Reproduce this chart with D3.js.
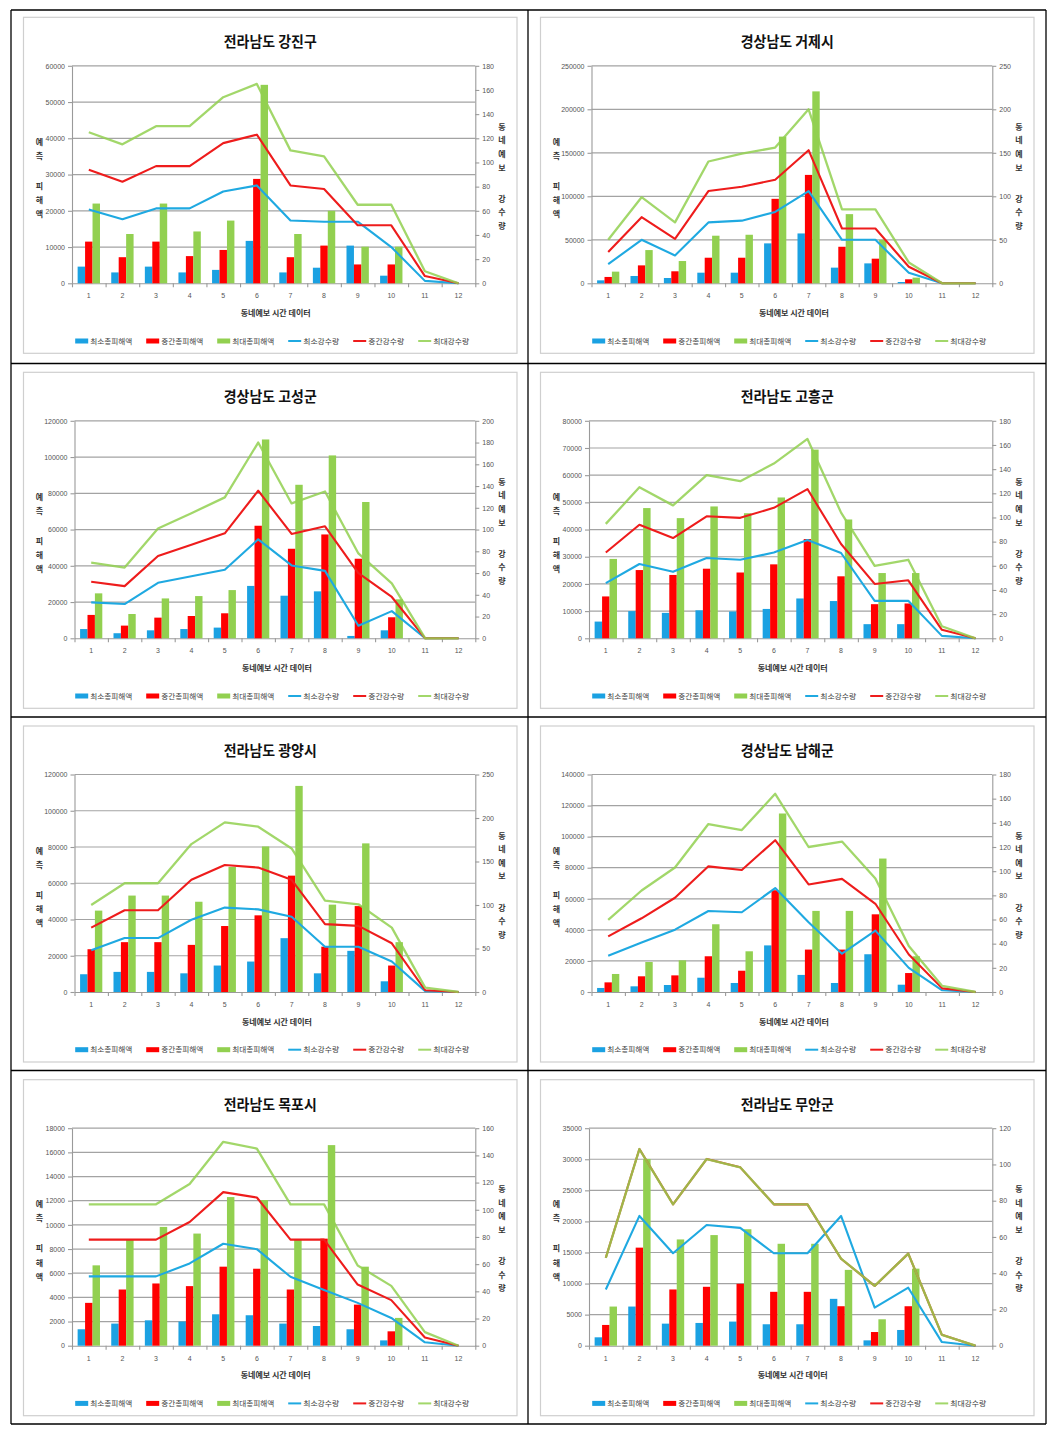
<!DOCTYPE html>
<html><head><meta charset="utf-8">
<script src="https://cdn.jsdelivr.net/npm/d3@7"></script>
<style>body{margin:0;background:#fff;} svg{display:block;}</style>
</head><body>
<svg id="c" width="1056" height="1436"></svg>
<script>
const categories = [1,2,3,4,5,6,7,8,9,10,11,12];
const titles = ["전라남도 강진구","경상남도 거제시","경상남도 고성군","전라남도 고흥군","전라남도 광양시","경상남도 남해군","전라남도 목포시","전라남도 무안군"];
const seriesNames = ["최소총피해액","중간총피해액","최대총피해액","최소강수량","중간강수량","최대강수량"];
const xTitle = "동네예보 시간 데이터";
const leftTitle = ["예","측","","피","해","액"];
const rightTitle = ["동","네","예","보","","강","수","량"];
const leftMax = [60000, 250000, 120000, 80000, 120000, 140000, 18000, 35000];
const leftStep = [10000, 50000, 20000, 10000, 20000, 20000, 2000, 5000];
const rightMax = [180, 250, 200, 180, 250, 180, 160, 120];
const rightStep = [20, 50, 20, 20, 50, 20, 20, 20];

const minDamage = [
  [4600,3000,4600,3000,3700,11700,3000,4300,10400,2100,0,0],
  [3400,8400,6100,12200,12200,45900,57300,18000,22900,1500,0,0],
  [5100,2800,4400,5100,5900,28900,23500,25900,1300,4400,0,0],
  [6150,10000,9350,10300,9850,10800,14650,13700,5200,5200,0,0],
  [9800,11100,11100,10300,14600,16800,29700,10300,22700,5900,0,0],
  [2600,3650,4500,9200,5800,30000,11000,5800,24300,4700,0,0],
  [1360,1830,2100,2000,2600,2520,1830,1630,1360,440,0,0],
  [1350,6300,3550,3660,3880,3450,3450,7540,860,2530,0,0]
];
const midDamage = [
  [11500,7200,11500,7500,9200,28800,7200,10400,5200,5200,0,0],
  [7300,20600,13800,29400,29400,97100,124600,42000,28300,4600,0,0],
  [12900,7000,11400,12300,13800,62100,49400,57300,43900,11600,0,0],
  [15400,25100,23300,25600,24200,27200,36500,22800,12550,12800,0,0],
  [23600,27500,27500,26000,36400,42300,64200,25000,47400,14600,0,0],
  [6200,10100,10700,23000,13700,65500,27300,27300,50000,12200,0,0],
  [3545,4650,5150,4930,6540,6370,4650,8860,3400,1190,0,0],
  [3340,15780,9050,9480,9960,8670,8670,6350,2200,6350,0,0]
];
const maxDamage = [
  [22000,13600,22000,14300,17300,54750,13600,20000,10100,10100,0,0],
  [13400,38200,25600,54700,55800,168600,220600,79500,50000,6500,0,0],
  [24800,13400,22000,23300,26600,109700,84700,100900,75200,21500,0,0],
  [29200,47900,44200,48500,46000,51800,69400,43700,24000,24000,0,0],
  [44900,53200,53200,49800,69000,80300,113700,48200,82000,27500,0,0],
  [11600,19300,20400,43600,26200,114900,52200,52200,85900,23000,0,0],
  [6650,8800,9830,9280,12300,12050,8800,16600,6540,2300,0,0],
  [6300,30050,17100,17800,18740,16400,16400,12200,4250,12400,0,0]
];
const minRain = [
  [61,53,62,62,76,81,52,51,51,30,2,0],
  [22,50,32,70,72,82,106,50,50,12,0,0],
  [33,31.5,51,57,63,91,67,62,11.6,25,0,0],
  [45.7,61.5,55,66.5,65,71,81.4,70.6,31,31,2,0],
  [48,62,62,83,97,95,86.5,52,52,35,1,0],
  [30,41,51.6,67,66,86,57.7,31.7,50.8,20,1.4,0],
  [51,51,51,60.5,75,71,50.7,41,31.5,20.4,2.5,0],
  [31,71.6,51,66.6,65,51,51,71.6,21,32,2,0]
];
const midRain = [
  [94,84,97,97,116,123,81,78,48,48,6,0],
  [36,76,51,106,111,119,153,63,63,19,0,0],
  [52,48,75.6,86,96.5,135.7,96,103,60,38,0,0],
  [71,94,83,101,99.7,108,123.5,78,45,48,7,0],
  [74,94,94,129,146,143,129,78,76,56,2,0],
  [46,61,78,104,101,125.6,89,93.6,73,31,3,0],
  [78,78,78,91,113,109,78,78,45,33.5,6,0],
  [48.5,108.5,78,103,98.4,78,78,48,33,50.8,6,0]
];
const maxRain = [
  [125,115,130,130,154,165,110,105,65,65,10,0],
  [50,99,70,140,149,156,200,85,85,24,0,0],
  [69.5,65,101,115,129.6,180,124,135,78,50.5,0,0],
  [94.7,125,110,135,130,144.6,165,104,60,65,10,0],
  [100,125,125,170,195,190,165,105,100.8,74,5,0],
  [59.6,84,103,139,134,164,120,124.5,94,38,5,0],
  [104,104,104,119,150,145,104,104,59,44,10,0],
  [48.5,108.5,78,103,98.4,78,78,48,33,50.8,6,0]
];

const barColors = ["#1ba1e2","#ff0000","#92d050"];
const lineColors = ["#1fa9e1","#ee1c1c","#92d050"];
const FONT = "'Noto Sans CJK KR','Noto Sans',sans-serif";
const NUMFONT = "'Liberation Sans','DejaVu Sans',sans-serif";

const svg = d3.select("#c");

// table grid
const colX = [11, 528, 1046];
const rowY = [10, 363.5, 717, 1070.5, 1424];
const grid = svg.append("g").attr("stroke","#000").attr("stroke-width",1.3);
colX.forEach(x => grid.append("line").attr("x1",x).attr("x2",x).attr("y1",rowY[0]).attr("y2",rowY[4]));
rowY.forEach(y => grid.append("line").attr("x1",colX[0]).attr("x2",colX[2]).attr("y1",y).attr("y2",y));

const frameXs = [23.5, 540.5];
const frameYs = [17.3, 372.3, 726, 1079.7];
const frameW = 493.5, frameH = 336;

titles.forEach((title, i) => {
  const col = i % 2, row = Math.floor(i / 2);
  const fx = frameXs[col], fy = frameYs[row];
  const g = svg.append("g");
  g.append("rect").attr("x",fx).attr("y",fy).attr("width",frameW).attr("height",frameH)
    .attr("fill","#fff").attr("stroke","#cfcfcf").attr("stroke-width",1.2);

  const pl = fx + (leftMax[i] >= 100000 ? 51 : 48.5);
  const pr = fx + frameW - 41.7;
  const pt = fy + 48.5;
  const pb = fy + 266;

  const x = d3.scaleBand().domain(categories).range([pl, pr]).paddingInner(0).paddingOuter(0);
  const xb = d3.scaleLinear().domain([0, categories.length]).range([pl, pr]);
  const yL = d3.scaleLinear().domain([0, leftMax[i]]).range([pb, pt]);
  const yR = d3.scaleLinear().domain([0, rightMax[i]]).range([pb, pt]);
  const lTicks = d3.range(0, leftMax[i] + 1, leftStep[i]);
  const rTicks = d3.range(0, rightMax[i] + 1, rightStep[i]);

  // gridlines
  g.append("g").selectAll("line").data(lTicks.filter(v => v > 0)).join("line")
    .attr("x1", pl).attr("x2", pr).attr("y1", d => yL(d)).attr("y2", d => yL(d))
    .attr("stroke", "#a3a3a3").attr("stroke-width", 1.2);

  // axes
  const ax = g.append("g").attr("transform", `translate(${pl},0)`)
    .call(d3.axisLeft(yL).tickValues(lTicks).tickSize(4).tickSizeOuter(0).tickPadding(3).tickFormat(d3.format("d")));
  const ar = g.append("g").attr("transform", `translate(${pr},0)`)
    .call(d3.axisRight(yR).tickValues(rTicks).tickSize(4).tickSizeOuter(0).tickPadding(3).tickFormat(d3.format("d")));
  const axb = g.append("g").attr("transform", `translate(0,${pb})`)
    .call(d3.axisBottom(xb).tickValues(d3.range(0, categories.length + 1)).tickSize(4).tickSizeOuter(0).tickFormat(""));
  const axl = g.append("g").attr("transform", `translate(0,${pb})`)
    .call(d3.axisBottom(x).tickSize(0).tickPadding(10));
  axl.select(".domain").remove();
  [ax, ar, axb, axl].forEach(a => {
    a.selectAll("path,line").attr("stroke", "#9a9a9a").attr("stroke-width", 1.1);
    a.selectAll("text").attr("font-family", NUMFONT).attr("font-size", 7).attr("fill", "#555");
  });

  // bars
  const bw = x.bandwidth();
  const groupW = bw * 0.665, barW = groupW / 3;
  [minDamage[i], midDamage[i], maxDamage[i]].forEach((vals, s) => {
    g.append("g").selectAll("rect").data(categories.map((c, k) => ({c, v: vals[k]}))).join("rect")
      .attr("x", d => x(d.c) + bw / 2 - groupW / 2 + s * barW)
      .attr("width", barW)
      .attr("y", d => yL(d.v))
      .attr("height", d => pb - yL(d.v))
      .attr("fill", barColors[s]);
  });

  // lines
  const line = d3.line().x(d => x(d.c) + bw / 2).y(d => yR(d.v));
  [minRain[i], midRain[i], maxRain[i]].forEach((vals, s) => {
    g.append("path").datum(categories.map((c, k) => ({c, v: vals[k]})))
      .attr("d", line).attr("fill", "none")
      .attr("stroke", lineColors[s])
      .attr("stroke-width", s === 2 ? 2.3 : 2.1)
      .attr("stroke-opacity", s === 2 ? 0.85 : 1)
      .attr("stroke-linejoin", "round");
  });

  // title
  g.append("text").attr("x", fx + frameW / 2).attr("y", fy + 30)
    .attr("text-anchor", "middle").attr("font-family", FONT).attr("font-weight", "bold")
    .attr("font-size", 15).attr("fill", "#111")
    .attr("textLength", 93).attr("lengthAdjust", "spacingAndGlyphs").text(title);

  // x title
  g.append("text").attr("x", (pl + pr) / 2 + 2).attr("y", fy + 298.5)
    .attr("text-anchor", "middle").attr("font-family", FONT).attr("font-weight", "bold")
    .attr("font-size", 8).attr("fill", "#333")
    .attr("textLength", 70).attr("lengthAdjust", "spacingAndGlyphs").text(xTitle);

  // vertical axis titles
  const lt = g.append("text").attr("font-family", FONT).attr("font-weight", "bold")
    .attr("font-size", 8).attr("fill", "#333").attr("text-anchor", "middle");
  leftTitle.forEach((ch, k) => {
    if (!ch) return;
    lt.append("tspan").attr("x", fx + 16).attr("y", fy + 127.5 + k * 14.2 + (k >= 3 ? 1.6 : 0)).text(ch);
  });
  const rt = g.append("text").attr("font-family", FONT).attr("font-weight", "bold")
    .attr("font-size", 8).attr("fill", "#333").attr("text-anchor", "middle");
  rightTitle.forEach((ch, k) => {
    if (!ch) return;
    rt.append("tspan").attr("x", fx + frameW - 15).attr("y", fy + 112.5 + k * 13.6 + (k >= 5 ? 4 : 0)).text(ch);
  });

  // legend
  let lx = fx + 51.7;
  const ly = fy + 323.7;
  seriesNames.forEach((name, k) => {
    const isBar = k < 3;
    const color = isBar ? barColors[k] : lineColors[k - 3];
    if (isBar) {
      g.append("rect").attr("x", lx).attr("y", ly - 2.5).attr("width", 13).attr("height", 5).attr("fill", color);
    } else {
      g.append("line").attr("x1", lx).attr("x2", lx + 13).attr("y1", ly).attr("y2", ly)
        .attr("stroke", color).attr("stroke-width", 2).attr("stroke-opacity", k === 5 ? 0.85 : 1);
    }
    const tw = isBar ? 42 : 36;
    g.append("text").attr("x", lx + 15).attr("y", ly + 2.6)
      .attr("font-family", FONT).attr("font-size", 7).attr("fill", "#404040")
      .attr("textLength", tw).attr("lengthAdjust", "spacingAndGlyphs").text(name);
    lx += 15 + tw + 14;
  });
});
</script>
</body></html>
